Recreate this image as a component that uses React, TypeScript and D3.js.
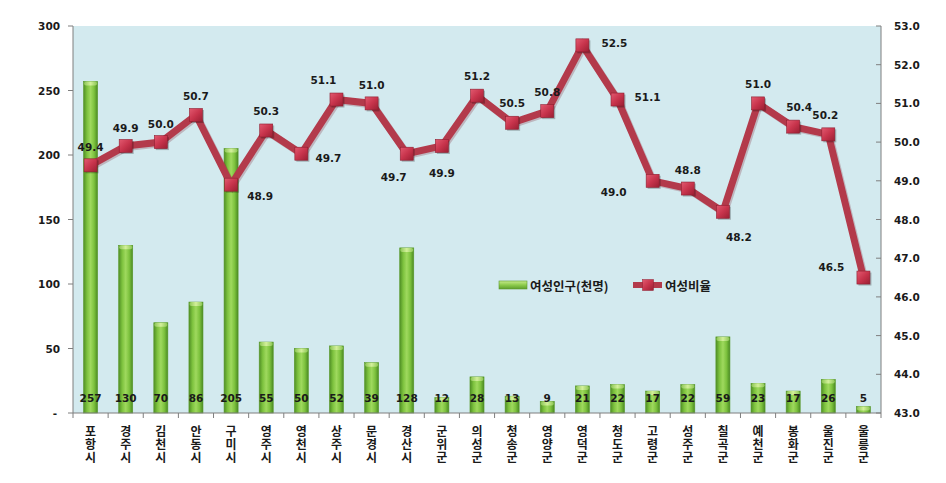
import React from 'react';
import * as d3 from 'd3';

const categories = ['포항시','경주시','김천시','안동시','구미시','영주시','영천시','상주시','문경시','경산시','군위군','의성군','청송군','영양군','영덕군','청도군','고령군','성주군','칠곡군','예천군','봉화군','울진군','울릉군'];
const population = [257,130,70,86,205,55,50,52,39,128,12,28,13,9,21,22,17,22,59,23,17,26,5];
const ratio = [49.4,49.9,50.0,50.7,48.9,50.3,49.7,51.1,51.0,49.7,49.9,51.2,50.5,50.8,52.5,51.1,49.0,48.8,48.2,51.0,50.4,50.2,46.5];
const leftTicks = [0,50,100,150,200,250,300];
const rightTicks = [43,44,45,46,47,48,49,50,51,52,53];
const seriesNames = ['여성인구(천명)','여성비율'];
// label placement offsets for the ratio labels (layout only)
const labelOffsets: [number, number][] = [
  [0,-18],[0,-18],[0,-18],[0,-19],[29,11],[0,-19],[27,4],[-13,-20],[0,-18],[-13,23],
  [0,27],[0,-20],[0,-20],[0,-19],[32,-2],[30,-3],[-39,11],[0,-19],[16,25],[0,-19],
  [6,-20],[-3,-19],[-32,-11]
];

const W = 946, H = 483;
const L = 73, R = 881, T = 26, B = 413;

const numFont = "'DejaVu Sans', Verdana, sans-serif";
const korFont = "'Noto Sans CJK KR', sans-serif";

export default function App() {
  const x = d3.scaleBand<string>().domain(categories).range([L, R]).paddingInner(0.6).paddingOuter(0.3);
  const yL = d3.scaleLinear().domain([0, 300]).range([B, T]);
  const yR = d3.scaleLinear().domain([43, 53]).range([B, T]);
  const step = x.step();
  const bw = x.bandwidth();
  const cx = (c: string) => (x(c) as number) + bw / 2;

  const line = d3.line<number>()
    .x((_, i) => cx(categories[i]))
    .y(d => yR(d));

  const lineColor = '#B33A4B';

  return (
    <svg width={W} height={H} style={{ position: 'absolute', left: 0, top: 0, background: '#fff' }}>
      <defs>
        <linearGradient id="barG" x1="0" x2="1" y1="0" y2="0">
          <stop offset="0" stopColor="#4F8E25" />
          <stop offset="0.25" stopColor="#7DC23E" />
          <stop offset="0.5" stopColor="#9FD95E" />
          <stop offset="0.75" stopColor="#7DC23E" />
          <stop offset="1" stopColor="#4A8A22" />
        </linearGradient>
        <linearGradient id="capG" x1="0" x2="1" y1="0" y2="0">
          <stop offset="0" stopColor="#8CC655" />
          <stop offset="0.5" stopColor="#D3F09A" />
          <stop offset="1" stopColor="#8CC655" />
        </linearGradient>
        <linearGradient id="mkG" x1="0" x2="1" y1="0" y2="1">
          <stop offset="0" stopColor="#E25A70" />
          <stop offset="0.5" stopColor="#C8344C" />
          <stop offset="1" stopColor="#9A1F33" />
        </linearGradient>
        <linearGradient id="legBar" x1="0" x2="0" y1="0" y2="1">
          <stop offset="0" stopColor="#C6EA8C" />
          <stop offset="0.5" stopColor="#8CCB4C" />
          <stop offset="1" stopColor="#5E9E2E" />
        </linearGradient>
      </defs>

      {/* plot background */}
      <rect x={L} y={T} width={R - L} height={B - T} fill="#D3EAEF" />

      {/* bars */}
      {population.map((v, i) => {
        const c = categories[i];
        const y0 = yL(v);
        const h = B - y0;
        return (
          <g key={'b' + i}>
            <rect x={x(c)} y={y0} width={bw} height={h} fill="url(#barG)" stroke="#5A9A2C" strokeWidth={0.6} />
            <rect x={(x(c) as number) + 0.5} y={y0} width={bw - 1} height={Math.min(4, h)} rx={2} fill="url(#capG)" />
          </g>
        );
      })}

      {/* bar labels */}
      {population.map((v, i) => (
        <text key={'bl' + i} x={cx(categories[i])} y={398} textAnchor="middle" dominantBaseline="central"
          fontFamily={numFont} fontWeight="bold" fontSize={10.5} fill="#1a1a1a">{v}</text>
      ))}

      {/* axes */}
      <line x1={L} x2={L} y1={T} y2={B} stroke="#7f7f7f" />
      <line x1={R} x2={R} y1={T} y2={B} stroke="#7f7f7f" />
      <line x1={L} x2={R} y1={B} y2={B} stroke="#7f7f7f" />
      {leftTicks.map(t => (
        <g key={'lt' + t}>
          <line x1={L - 5} x2={L} y1={yL(t)} y2={yL(t)} stroke="#7f7f7f" />
          <text x={t === 0 ? 57 : 60} y={yL(t)} textAnchor="end" dominantBaseline="central"
            fontFamily={numFont} fontWeight="bold" fontSize={10.5} fill="#1a1a1a">{t === 0 ? '-' : t}</text>
        </g>
      ))}
      {rightTicks.map(t => (
        <g key={'rt' + t}>
          <line x1={R - 5} x2={R} y1={yR(t)} y2={yR(t)} stroke="#7f7f7f" />
          <text x={894} y={yR(t)} textAnchor="start" dominantBaseline="central"
            fontFamily={numFont} fontWeight="bold" fontSize={10.5} fill="#1a1a1a">{t.toFixed(1)}</text>
        </g>
      ))}
      {d3.range(categories.length + 1).map(i => (
        <line key={'xt' + i} x1={L + i * step} x2={L + i * step} y1={B} y2={B + 5} stroke="#7f7f7f" />
      ))}
      {categories.map(c => (
        <text key={'xl' + c} x={cx(c)} y={425} textAnchor="start"
          style={{ writingMode: 'vertical-rl', textOrientation: 'upright' } as any}
          letterSpacing={1}
          fontFamily={korFont} fontWeight="bold" fontSize={12} fill="#1a1a1a">{c}</text>
      ))}

      {/* line */}
      <path d={line(ratio) as string} fill="none" stroke="#7a2030" strokeOpacity={0.25} strokeWidth={7} transform="translate(1.5,1.5)" strokeLinejoin="miter" />
      <path d={line(ratio) as string} fill="none" stroke={lineColor} strokeWidth={7} strokeLinejoin="miter" />
      {ratio.map((v, i) => {
        const px = cx(categories[i]);
        const py = yR(v);
        return (
          <g key={'m' + i}>
            <rect x={px - 6.5 + 1.5} y={py - 6.5 + 1.5} width={13} height={13} fill="#000" opacity={0.25} />
            <rect x={px - 6.5} y={py - 6.5} width={13} height={13} fill="url(#mkG)" stroke="#8E1E30" strokeWidth={0.6} />
          </g>
        );
      })}
      {ratio.map((v, i) => {
        const px = cx(categories[i]);
        const py = yR(v);
        const [dx, dy] = labelOffsets[i];
        return (
          <text key={'rl' + i} x={px + dx} y={py + dy} textAnchor="middle" dominantBaseline="central"
            fontFamily={numFont} fontWeight="bold" fontSize={10.5} fill="#1a1a1a">{v.toFixed(1)}</text>
        );
      })}

      {/* legend */}
      <g>
        <rect x={499} y={281} width={28} height={8} fill="url(#legBar)" stroke="#5A9A2C" strokeWidth={0.6} />
        <text x={530} y={285} dominantBaseline="central" fontFamily={korFont} fontWeight="bold" fontSize={12.5} fill="#1a1a1a">{seriesNames[0]}</text>
        <line x1={633} x2={662} y1={285} y2={285} stroke={lineColor} strokeWidth={6} />
        <rect x={648 - 5.5} y={285 - 5.5} width={11} height={11} fill="url(#mkG)" stroke="#8E1E30" strokeWidth={0.5} />
        <text x={665} y={285} dominantBaseline="central" fontFamily={korFont} fontWeight="bold" fontSize={12.5} fill="#1a1a1a">{seriesNames[1]}</text>
      </g>
    </svg>
  );
}
